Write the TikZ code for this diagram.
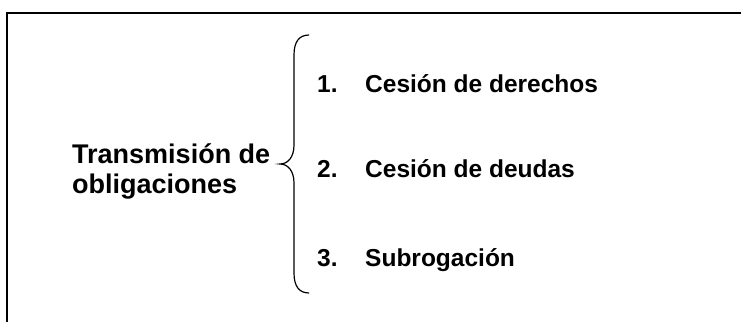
\documentclass[tikz,border=0pt]{standalone}
\usepackage{fontspec}
\setmainfont{Liberation Sans}

\begin{document}
\begin{tikzpicture}[x=1bp, y=-1bp]%
        \tikzstyle{entry}=[inner sep=0pt, anchor=base west, font=\fontsize{24.5bp}{30bp}\selectfont\bfseries];%
        \tikzstyle{title}=[entry, align=left, font=\fontsize{27bp}{30bp}\selectfont\bfseries];%
        \useasboundingbox (0, 0) rectangle (741, 321);

        \coordinate (fb) at (7, 330);
        \coordinate (fr) at (745, 13);
        \draw[line width=1.6bp] (fb) |- (fr);

        \node[title] (t) at (72, 193) {Transmisión de\\obligaciones};

        \coordinate (bt) at (309, 35);
        \coordinate (bm) at (280, 164);
        \coordinate (bb) at (309, 293);
        \draw[line width=1.2bp] (bt) .. controls (299, 35) and (294, 42) .. (294, 55) -- (294, 145)
                .. controls (294, 157) and (288, 164) .. (bm)
                .. controls (288, 164) and (294, 171) .. (294, 183) -- (294, 273)
                .. controls (294, 286) and (299, 293) .. (bb);

        \node[entry] (n1) at (317, 92) {1.};
        \node[entry] (e1) at (365, 92) {Cesión de derechos};

        \node[entry] (n2) at (317, 177) {2.};
        \node[entry] (e2) at (365, 177) {Cesión de deudas};

        \node[entry] (n3) at (317, 266) {3.};
        \node[entry] (e3) at (365, 266) {Subrogación};
    \end{tikzpicture}
\end{document}
